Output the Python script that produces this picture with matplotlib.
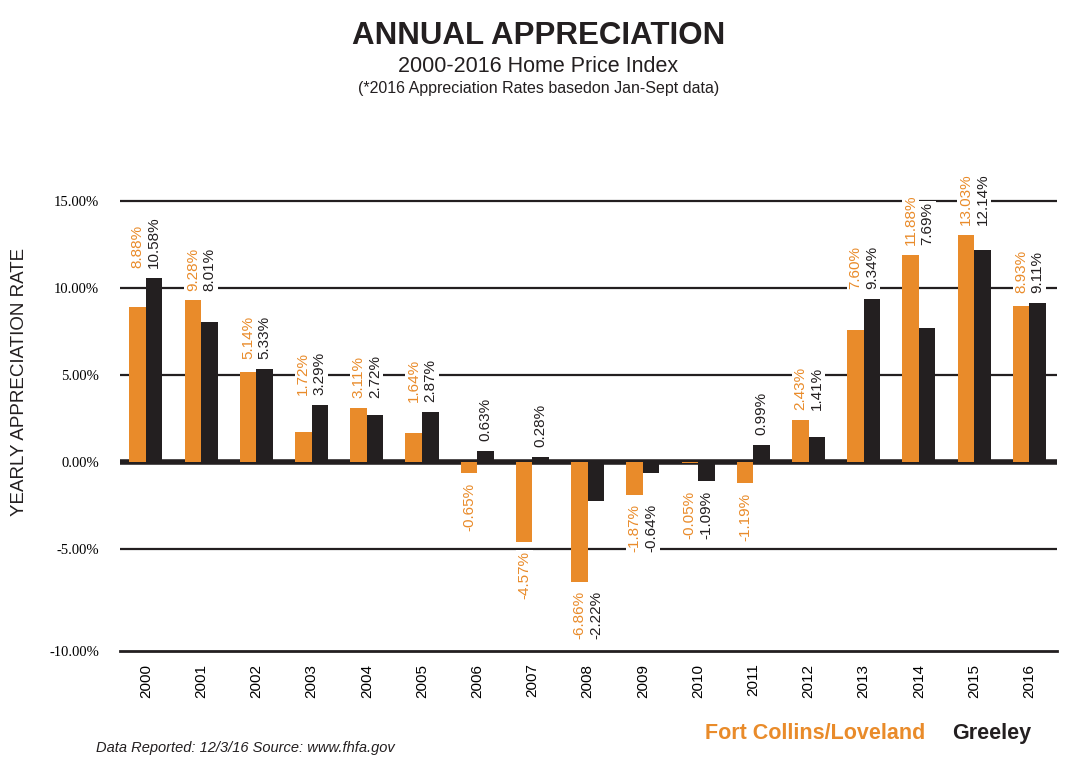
import matplotlib
matplotlib.use("Agg")
import matplotlib.pyplot as plt
import numpy as np

years = [str(y) for y in range(2000, 2017)]
fort_collins = [8.88, 9.28, 5.14, 1.72, 3.11, 1.64, -0.65, -4.57, -6.86,
                -1.87, -0.05, -1.19, 2.43, 7.60, 11.88, 13.03, 8.93]
greeley = [10.58, 8.01, 5.33, 3.29, 2.72, 2.87, 0.63, 0.28, -2.22,
           -0.64, -1.09, 0.99, 1.41, 9.34, 7.69, 12.14, 9.11]

# the source chart puts its -10% label on the bottom rule
y_bottom = -10.85
ytick_pos = [y_bottom, -5, 0, 5, 10, 15]
ytick_labels = ["-10.00%", "-5.00%", "0.00%", "5.00%", "10.00%", "15.00%"]

ORANGE = "#E98B2A"
BLACK = "#231F20"
SANS = "Liberation Sans"

fig = plt.figure(figsize=(10.77, 7.61), dpi=100)
ax = fig.add_axes([0.1114, 0.1445, 0.870, 0.6492])

x = np.arange(len(years))
w = 0.30

# grid lines + heavy zero line
for v in [-5, 5, 10, 15]:
    ax.axhline(v, color=BLACK, lw=1.6, zorder=1)
ax.axhline(0, color=BLACK, lw=4, zorder=1)

ax.bar(x - w / 2, fort_collins, w, color=ORANGE, zorder=2)
ax.bar(x + w / 2, greeley, w, color=BLACK, zorder=2)

box = dict(facecolor="white", edgecolor="none", pad=1.0)

def put_label(xpos, base, val, color):
    up = val >= 0
    ax.annotate(f"{val:.2f}%", xy=(xpos, base), xytext=(0, 7 if up else -7),
                textcoords="offset points", rotation=90, ha="center",
                va="bottom" if up else "top", color=color, fontsize=11,
                family=SANS, bbox=box, zorder=3)

for i in range(len(years)):
    a, b = fort_collins[i], greeley[i]
    if a >= 0 and b >= 0:
        put_label(x[i] - w / 2, max(a, b), a, ORANGE)
        put_label(x[i] + w / 2, max(a, b), b, BLACK)
    elif a < 0 and b < 0:
        put_label(x[i] - w / 2, min(a, b), a, ORANGE)
        put_label(x[i] + w / 2, min(a, b), b, BLACK)
    else:
        put_label(x[i] - w / 2, a, a, ORANGE)
        put_label(x[i] + w / 2, b, b, BLACK)

ax.set_xlim(-0.47, 16.5)
ax.set_ylim(y_bottom, 17.5)
ax.set_yticks(ytick_pos)
ax.set_yticklabels(ytick_labels, family="Liberation Serif", fontsize=10.5)
ax.set_xticks(x)
ax.set_xticklabels(years, rotation=90, family=SANS, fontsize=11, va="top")
ax.tick_params(axis="both", length=0)
ax.tick_params(axis="y", pad=15)
ax.tick_params(axis="x", pad=9)

for s in ["top", "right", "left"]:
    ax.spines[s].set_visible(False)
ax.spines["bottom"].set_linewidth(2)
ax.spines["bottom"].set_color(BLACK)

ax.set_ylabel("YEARLY APPRECIATION RATE", family=SANS, fontsize=13.5,
              color=BLACK)
ax.yaxis.set_label_coords(-0.098, 0.545)

fig.text(0.5, 0.953, "ANNUAL APPRECIATION", ha="center", va="center",
         family=SANS, fontweight="bold", fontsize=22.5, color=BLACK)
fig.text(0.5, 0.913, "2000-2016 Home Price Index", ha="center", va="center",
         family=SANS, fontsize=15.5, color=BLACK)
fig.text(0.5, 0.884, "(*2016 Appreciation Rates basedon Jan-Sept data)",
         ha="center", va="center", family=SANS, fontsize=11.5, color=BLACK)

fig.text(0.859, 0.036, "Fort Collins/Loveland", ha="right", va="center",
         family=SANS, fontweight="bold", fontsize=15.5, color=ORANGE)
fig.text(0.884, 0.036, "Greeley", ha="left", va="center",
         family=SANS, fontweight="bold", fontsize=15.5, color=BLACK)
fig.text(0.089, 0.017, "Data Reported: 12/3/16 Source: www.fhfa.gov",
         ha="left", va="center", family=SANS, style="italic", fontsize=10.5,
         color=BLACK)

fig.savefig("out.png", dpi=100)
